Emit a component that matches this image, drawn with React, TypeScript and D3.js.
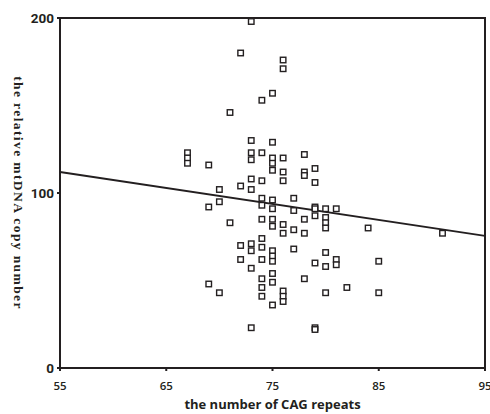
import React from 'react';
import * as d3 from 'd3';

// CAG repeat counts and relative mtDNA copy numbers
const cagRepeats = [
  67, 67, 67,
  69, 69, 69,
  70, 70, 70,
  71, 71,
  72, 72, 72, 72,
  73, 73, 73, 73, 73, 73, 73, 73, 73, 73,
  74, 74, 74, 74, 74, 74, 74, 74, 74, 74, 74, 74,
  75, 75, 75, 75, 75, 75, 75, 75, 75, 75, 75, 75, 75, 75, 75,
  76, 76, 76, 76, 76, 76, 76, 76, 76, 76,
  77, 77, 77, 77,
  78, 78, 78, 78, 78, 78,
  79, 79, 79, 79, 79, 79, 79, 79,
  80, 80, 80, 80, 80, 80, 80,
  81, 81, 81,
  82, 84, 85, 85, 91,
];
const mtDNACopy = [
  123, 120, 117,
  116, 92, 48,
  102, 95, 43,
  146, 83,
  180, 104, 70, 62,
  198, 130, 123, 119, 108, 102, 71, 67, 57, 23,
  153, 123, 107, 97, 93, 85, 74, 69, 62, 51, 46, 41,
  157, 129, 120, 117, 113, 96, 91, 85, 81, 67, 64, 61, 54, 49, 36,
  176, 171, 120, 112, 107, 82, 77, 44, 41, 38,
  97, 90, 79, 68,
  122, 112, 110, 85, 77, 51,
  114, 106, 92, 91, 87, 60, 23, 22,
  91, 86, 83, 80, 66, 58, 43,
  91, 62, 59,
  46, 80, 61, 43, 77,
];

// fitted regression line end points (at x = 55 and x = 95)
const fitX = [55, 95];
const fitY = [112, 75.5];

const xTicks = [55, 65, 75, 85, 95];
const yTicks = [0, 100, 200];

const ink = '#231f20';

export default function App() {
  const width = 490;
  const height = 414;
  const margin = { left: 60, right: 5, top: 18, bottom: 46 };

  const xScale = d3.scaleLinear()
    .domain([55, 95])
    .range([margin.left, width - margin.right]);
  const yScale = d3.scaleLinear()
    .domain([0, 200])
    .range([height - margin.bottom, margin.top]);

  const points = cagRepeats.map((x, i) => ({ x, y: mtDNACopy[i] }));
  const fitLine = d3.line<number>()
    .x((d) => xScale(d))
    .y((d, i) => yScale(fitY[i]));

  const x0 = xScale(55);
  const x1 = xScale(95);
  const y0 = yScale(0);
  const y1 = yScale(200);
  const sq = 5.5;

  return (
    <svg width={width} height={height} style={{ position: 'absolute', left: 0, top: 0, background: '#fff' }}>
      {/* frame */}
      <rect x={x0} y={y1} width={x1 - x0} height={y0 - y1} fill="none" stroke={ink} strokeWidth={2} />

      {/* x ticks */}
      {xTicks.map((t) => (
        <g key={'x' + t}>
          <line x1={xScale(t)} x2={xScale(t)} y1={y0} y2={y0 + 3} stroke={ink} strokeWidth={2} />
          <text x={xScale(t)} y={y0 + 22} textAnchor="middle" fontFamily="'Open Sans', sans-serif"
            fontWeight={600} fontSize={11.5} fill={ink}>{t}</text>
        </g>
      ))}

      {/* y ticks */}
      {yTicks.map((t) => (
        <g key={'y' + t}>
          <line x1={x0 - 3} x2={x0} y1={yScale(t)} y2={yScale(t)} stroke={ink} strokeWidth={2} />
          <text x={x0 - 6} y={yScale(t)} dy="0.35em" textAnchor="end" fontFamily="'Liberation Sans Narrow', 'Roboto', sans-serif"
            fontWeight={700} fontSize={13.5} fill={ink}>{t}</text>
        </g>
      ))}

      {/* regression line */}
      <path d={fitLine(fitX) || ''} fill="none" stroke={ink} strokeWidth={2} />

      {/* data points */}
      {points.map((p, i) => (
        <rect key={i} x={xScale(p.x) - sq / 2} y={yScale(p.y) - sq / 2} width={sq} height={sq}
          fill="#fff" stroke={ink} strokeWidth={1.4} />
      ))}

      {/* axis titles */}
      <text x={(x0 + x1) / 2} y={height - 5} textAnchor="middle" fontFamily="'Open Sans', sans-serif"
        fontWeight={700} fontSize={13} fill={ink}>the number of CAG repeats</text>
      <text transform={`translate(14, ${(y0 + y1) / 2}) rotate(90)`} textAnchor="middle" letterSpacing={1.4}
        fontFamily="'Liberation Serif', serif" fontWeight={700} fontSize={13.5} fill={ink}>the relative mtDNA copy number</text>
    </svg>
  );
}
